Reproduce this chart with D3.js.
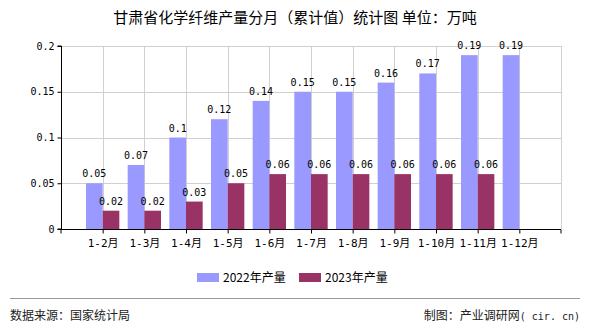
<!DOCTYPE html>
<html><head><meta charset="utf-8">
<script src="https://cdn.jsdelivr.net/npm/d3@7/dist/d3.min.js"></script>
<style>body{margin:0;background:#fff}svg{display:block}</style>
</head><body>
<svg id="c" width="590" height="330"></svg>
<script>
const categories = ["1-2月","1-3月","1-4月","1-5月","1-6月","1-7月","1-8月","1-9月","1-10月","1-11月","1-12月"];
const series2022 = [0.05,0.07,0.1,0.12,0.14,0.15,0.15,0.16,0.17,0.19,0.19];
const series2023 = [0.02,0.02,0.03,0.05,0.06,0.06,0.06,0.06,0.06,0.06,null];
const yTicks = [0,0.05,0.1,0.15,0.2];
const seriesNames = ["2022年产量","2023年产量"];
const colors = ["#9999ff","#993366"];

(function(){
const svg = d3.select("#c");
const numFont = "'DejaVu Sans Mono','Noto Sans CJK SC',monospace";
const cjkFont = "'Noto Sans CJK SC',sans-serif";
const pL = 61, pR = 561, pT = 46, pB = 229;

const x = d3.scalePoint().domain(categories).range([pL, pR]).padding(1);
const y = d3.scaleLinear().domain([0, 0.2]).range([pB, pT]);
const step = x.step();
const bw = step * 0.4;

// title
svg.append("text").attr("x", 295).attr("y", 23).attr("text-anchor", "middle")
  .style("font-family", cjkFont).style("font-size", "15px").attr("fill", "#000")
  .text("甘肃省化学纤维产量分月（累计值）统计图 单位：万吨");

// grid
const g = svg.append("g");
g.selectAll("line.h").data(yTicks.slice(1)).join("line")
  .attr("x1", pL).attr("x2", pR).attr("y1", d => Math.round(y(d)) + 0.5).attr("y2", d => Math.round(y(d)) + 0.5)
  .attr("stroke", "#d0d0d0").attr("stroke-width", 1);
g.selectAll("line.v").data(categories).join("line")
  .attr("x1", d => Math.round(x(d)) + 0.5).attr("x2", d => Math.round(x(d)) + 0.5).attr("y1", pT).attr("y2", pB)
  .attr("stroke", "#d0d0d0").attr("stroke-width", 1);
g.append("line").attr("x1", pR + 0.5).attr("x2", pR + 0.5).attr("y1", pT).attr("y2", pB)
  .attr("stroke", "#d0d0d0");

// bars
const data = categories.map((c, i) => ({c, a: series2022[i], b: series2023[i]}));
svg.append("g").selectAll("rect").data(data).join("rect")
  .attr("x", d => x(d.c) - bw).attr("width", bw)
  .attr("y", d => y(d.a)).attr("height", d => y(0) - y(d.a)).attr("fill", colors[0]);
svg.append("g").selectAll("rect").data(data.filter(d => d.b != null)).join("rect")
  .attr("x", d => x(d.c)).attr("width", bw)
  .attr("y", d => y(d.b)).attr("height", d => y(0) - y(d.b)).attr("fill", colors[1]);

// labels
svg.append("g").selectAll("text").data(data).join("text")
  .attr("x", d => x(d.c) - bw / 2).attr("y", d => y(d.a) - 6).attr("text-anchor", "middle")
  .style("font-family", numFont).style("font-size", "10px").text(d => d.a);
svg.append("g").selectAll("text").data(data.filter(d => d.b != null)).join("text")
  .attr("x", d => x(d.c) + bw / 2).attr("y", d => y(d.b) - 6).attr("text-anchor", "middle")
  .style("font-family", numFont).style("font-size", "10px").text(d => d.b);

// axes
const yAxis = svg.append("g").attr("transform", `translate(${pL + 0.5},0)`)
  .call(d3.axisLeft(y).tickValues(yTicks).tickSize(4).tickFormat(d => d === 0 ? "0" : String(d)));
yAxis.select(".domain").attr("stroke", "#000").attr("d", `M-4,${pT}H0V${pB}H-4`);
yAxis.selectAll("text").style("font-family", numFont).style("font-size", "10px").attr("fill", "#000");

const xAxis = svg.append("g").attr("transform", `translate(0,${pB + 0.5})`)
  .call(d3.axisBottom(x).tickSize(4).tickSizeOuter(4).tickPadding(6));
xAxis.select(".domain").attr("stroke", "#000").attr("d", `M${pL},4V0H${pR}V4`);
xAxis.selectAll("text").style("font-family", numFont).style("font-size", "11px").attr("fill", "#000");

// legend
const leg = svg.append("g");
const lx = [197, 299];
seriesNames.forEach((n, i) => {
  leg.append("rect").attr("x", lx[i]).attr("y", 273).attr("width", 22).attr("height", 9).attr("fill", colors[i]);
  leg.append("text").attr("x", lx[i] + 26).attr("y", 281.5)
    .style("font-family", cjkFont).style("font-size", "12px").text(n);
});

// footer
svg.append("line").attr("x1", 10).attr("x2", 580).attr("y1", 298.5).attr("y2", 298.5)
  .attr("stroke", "#999").attr("stroke-width", 1);
svg.append("text").attr("x", 10).attr("y", 320).style("font-family", cjkFont).style("font-size", "12px")
  .attr("fill", "#222").text("数据来源：国家统计局");
const ft = svg.append("text").attr("x", 580).attr("y", 320).attr("text-anchor", "end")
  .style("font-family", cjkFont).style("font-size", "12px").attr("fill", "#222");
ft.append("tspan").text("制图：产业调研网");
ft.append("tspan").style("font-family", numFont).style("font-size", "10px").text("( cir. cn)");
})();
</script>
</body></html>
